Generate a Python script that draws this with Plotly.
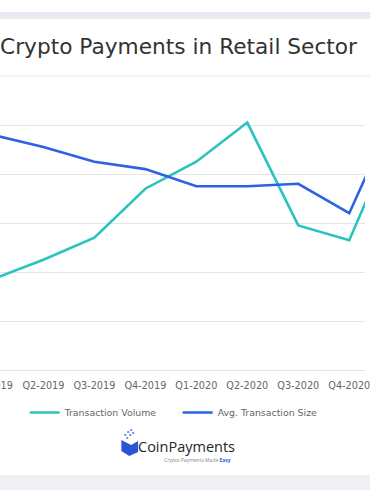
import plotly.graph_objects as go

# ---- data (index values, common scale 0-120) ----
quarters = ["Q1-2019", "Q2-2019", "Q3-2019", "Q4-2019", "Q1-2020",
            "Q2-2020", "Q3-2020", "Q4-2020", "Q1-2021"]
transaction_volume = [37, 45, 54, 74, 85, 101, 59, 53, 101]
avg_transaction_size = [96, 91, 85, 82, 75, 75, 76, 64, 110]
series_names = ["Transaction Volume", "Avg. Transaction Size"]
title_text = "Crypto Payments in Retail Sector"

W, H = 370, 490
PLOT_TOP, PLOT_BOT = 76, 370
TEAL = "#2ac3be"
BLUE = "#2c62e3"
FONT = "DejaVu Sans"


def py(pix):
    """pixel row -> paper y"""
    return (PLOT_BOT - pix) / (PLOT_BOT - PLOT_TOP)


def px(pix):
    return pix / W


fig = go.Figure()
fig.add_trace(go.Scatter(x=quarters, y=transaction_volume, name=series_names[0],
                         mode="lines", line=dict(color=TEAL, width=2.6)))
fig.add_trace(go.Scatter(x=quarters, y=avg_transaction_size, name=series_names[1],
                         mode="lines", line=dict(color=BLUE, width=2.6)))

step = 51.67
x0 = 7.67 / step
x1 = (W + 7.67) / step

shapes = [
    dict(type="rect", xref="paper", yref="paper", x0=-0.05, x1=1.05,
         y0=py(19), y1=py(12), fillcolor="#e8eaf1", line_width=0, layer="below"),
    dict(type="rect", xref="paper", yref="paper", x0=-0.05, x1=1.05,
         y0=py(495), y1=py(475), fillcolor="#eef0f4", line_width=0, layer="below"),
    dict(type="line", xref="paper", yref="paper", x0=-0.05, x1=1.05,
         y0=py(76), y1=py(76), line=dict(color="#ececec", width=1.2)),
    # logo icon (wallet)
    dict(type="path", xref="paper", yref="paper",
         path=f"M {px(123)},{py(440)} L {px(133)},{py(445)} L {px(140)},{py(441)} "
              f"L {px(140)},{py(452)} L {px(131)},{py(456)} L {px(123)},{py(451)} Z",
         fillcolor="#2c55d6", line_width=0),
]
for (cx, cy) in [(128, 437), (131, 434), (134, 432), (126, 434), (129, 431), (132, 429)]:
    shapes.append(dict(type="rect", xref="paper", yref="paper",
                       x0=px(cx), x1=px(cx + 2), y0=py(cy + 2), y1=py(cy),
                       fillcolor="#6f8ff0", line_width=0))

annotations = [
    dict(text=title_text, xref="paper", yref="paper", x=px(-2), y=py(46),
         xanchor="left", yanchor="middle", showarrow=False,
         font=dict(family=FONT, size=21.7, color="#333333")),
    # first tick label, partly outside the visible area
    dict(text=quarters[0], xref="paper", yref="paper", x=px(-7.67), y=py(385),
         xanchor="center", yanchor="middle", showarrow=False,
         font=dict(family=FONT, size=9.7, color="#666666")),
    dict(text="CoinPayments", xref="paper", yref="paper", x=px(138), y=py(446),
         xanchor="left", yanchor="middle", showarrow=False,
         font=dict(family="Open Sans", size=14.5, color="#262626")),
    dict(text="Crypto Payments Made <b><span style='color:#2c62e3'>Easy</span></b>",
         xref="paper", yref="paper", x=px(236), y=py(460),
         xanchor="right", yanchor="middle", showarrow=False,
         font=dict(family="Open Sans", size=5, color="#888888")),
]

fig.update_layout(
    width=W, height=H,
    margin=dict(l=0, r=0, t=PLOT_TOP, b=H - PLOT_BOT, pad=0),
    paper_bgcolor="white", plot_bgcolor="white",
    showlegend=True,
    legend=dict(orientation="h", x=px(25), xanchor="left", y=py(398), yanchor="top",
                font=dict(family=FONT, size=9.4, color="#666666"),
                entrywidth=108, entrywidthmode="pixels",
                itemwidth=30, tracegroupgap=0, bgcolor="rgba(0,0,0,0)"),
    xaxis=dict(type="category", range=[x0, x1], showgrid=False, zeroline=False,
               showline=False, ticks="outside", ticklen=6, tickcolor="rgba(0,0,0,0)",
               tickfont=dict(family=FONT, size=9.7, color="#666666")),
    yaxis=dict(range=[0, 120], dtick=20, showticklabels=False, showgrid=True,
               gridcolor="#e6e6e6", gridwidth=1.2, zeroline=True,
               zerolinecolor="#e2e2e2", zerolinewidth=1.2, fixedrange=True),
    shapes=shapes, annotations=annotations,
)

fig.write_html("out.html", config={"displayModeBar": False},
               post_script="document.body.style.margin='0';"
                           "document.body.style.overflow='hidden';")
